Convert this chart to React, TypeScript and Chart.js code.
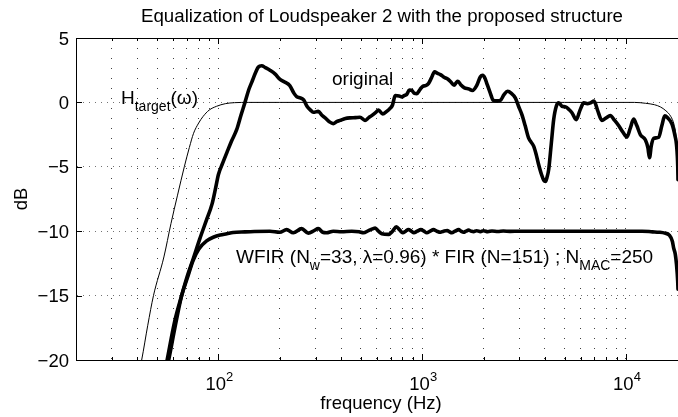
import { useEffect, useRef } from 'react';
import { Chart, registerables } from 'chart.js';

Chart.register(...registerables);

const TITLE = 'Equalization of Loudspeaker 2 with the proposed structure';
const X_LABEL = 'frequency (Hz)';
const Y_LABEL = 'dB';
const X_MIN = 20;
const X_MAX = 18000;
const Y_MIN = -20;
const Y_MAX = 5;
const X_GRID = [20, 30, 40, 50, 60, 70, 80, 90, 100, 200, 300, 400, 500, 600, 700, 800, 900, 1000, 2000, 3000, 4000, 5000, 6000, 7000, 8000, 9000, 10000];
const X_LABELED = [100, 1000, 10000];
const X_LABEL_EXP = ['2', '3', '4'];
const Y_TICKS = [5, 0, -5, -10, -15, -20];

const targetFreq = [38, 42, 45, 48, 54, 58.5, 63, 68, 72, 75.5, 80, 84, 90, 98, 108, 120, 140, 200, 1000, 5000, 11000, 12500, 13800, 14750, 15700, 16600, 17200, 17600, 17900, 18000];
const targetDb = [-23, -20, -17.3, -15, -12, -9.4, -7.2, -5, -3.5, -2.4, -1.6, -1.1, -0.6, -0.3, -0.1, -0.02, 0, 0, 0, 0, 0, -0.07, -0.18, -0.35, -0.65, -1.1, -1.7, -2.6, -4.2, -6];

const originalFreq = [50, 56, 61, 66, 70, 75, 81, 87.5, 93, 97, 100, 105, 110, 116, 123, 129, 135, 141, 146, 152, 157, 163, 170, 179, 190, 200, 210, 224, 235, 242, 252, 262, 272, 283, 292, 309, 322, 334, 350, 366, 380, 395, 420, 442, 470, 495, 524, 545, 565, 590, 610, 640, 670, 697, 715, 737, 770, 795, 820, 838, 865, 888, 915, 940, 975, 1006, 1040, 1073, 1110, 1150, 1190, 1228, 1280, 1328, 1380, 1433, 1470, 1497, 1550, 1612, 1690, 1764, 1850, 1930, 1982, 2030, 2070, 2150, 2235, 2320, 2418, 2520, 2625, 2740, 2862, 2970, 3085, 3200, 3326, 3430, 3527, 3620, 3710, 3850, 3950, 4026, 4100, 4177, 4300, 4418, 4550, 4680, 4850, 5050, 5250, 5430, 5700, 5950, 6210, 6450, 6700, 6970, 7250, 7620, 8000, 8370, 8800, 9200, 9650, 10100, 10500, 10900, 11300, 11760, 12440, 12800, 13050, 13300, 13680, 14470, 15000, 15500, 16000, 16840, 17400, 17700, 17950, 18000];
const originalDb = [-24, -20, -17, -15, -13.6, -12.2, -10.6, -9.1, -7.9, -6.6, -5.6, -4.7, -3.9, -3.0, -2.1, -1.0, 0, 1.0, 1.6, 2.3, 2.75, 2.85, 2.7, 2.5, 2.2, 1.8, 1.6, 1.3, 0.7, 0.45, 0.35, 0.2, -0.3, -0.6, -0.77, -0.7, -1.0, -1.2, -1.5, -1.65, -1.5, -1.4, -1.25, -1.2, -1.18, -1.15, -1.4, -1.2, -1.03, -0.8, -0.6, -0.9, -0.7, -0.45, -0.2, 0.53, 0.5, 0.43, 0.55, 0.6, 0.95, 0.94, 0.7, 0.68, 1.0, 1.25, 1.3, 1.46, 1.9, 2.37, 2.25, 2.16, 1.95, 1.83, 1.6, 1.33, 1.55, 1.64, 1.35, 1.13, 1.05, 0.92, 1.3, 2.0, 2.11, 1.9, 1.52, 0.8, 0.16, 0.12, 0.16, 0.6, 0.86, 0.7, 0.35, -0.3, -0.95, -1.8, -2.76, -3.1, -3.41, -4.0, -4.7, -5.6, -6.05, -6.14, -5.8, -5.2, -3.2, -1.33, -0.3, -0.04, -0.3, -0.35, -0.55, -0.8, -1.34, -0.6, -0.04, -0.1, -0.04, 0.1, -0.6, -1.4, -1.2, -1.03, -1.4, -1.8, -2.3, -2.7, -2.0, -1.3, -1.8, -2.5, -2.9, -3.5, -4.3, -3.4, -2.8, -2.7, -1.8, -1.05, -1.2, -1.7, -2.6, -3.3, -5, -6];

const eqFreq = [50, 57, 61.5, 66, 70.5, 75, 80, 87.5, 95, 102, 110, 118, 135, 150, 179, 200, 216, 233, 256, 276, 295, 309, 325, 339, 366, 402, 451, 490, 515, 545, 570, 588, 610, 634, 684, 715, 747, 775, 802, 830, 855, 885, 910, 945, 985, 1020, 1053, 1095, 1135, 1180, 1228, 1275, 1328, 1360, 1398, 1450, 1510, 1550, 1597, 1640, 1688, 1740, 1786, 1850, 1930, 2000, 2100, 2200, 2350, 2500, 2700, 3000, 5000, 10000, 12000, 13500, 14500, 15500, 16300, 16900, 17130, 17460, 17700, 17940, 18000];
const eqDb = [-24, -20, -17.3, -15, -13.6, -12.3, -11.4, -10.75, -10.45, -10.3, -10.2, -10.1, -10.05, -10.02, -10.0, -10.08, -9.88, -10.12, -9.8, -10.15, -9.95, -9.8, -10.08, -10.12, -10.0, -10.04, -10.0, -10.04, -10.12, -9.95, -9.82, -9.75, -10.0, -10.2, -10.25, -10.0, -9.65, -9.9, -10.12, -10.0, -9.87, -10.0, -10.12, -10.0, -9.88, -10.0, -10.12, -10.0, -9.88, -10.0, -10.08, -10.0, -9.95, -10.04, -10.12, -10.0, -9.88, -10.0, -10.08, -10.0, -9.92, -10.0, -10.04, -9.96, -10.04, -9.96, -10.04, -9.98, -10.02, -9.99, -10.01, -10.0, -10.0, -10.0, -10.0, -10.05, -10.08, -10.15, -10.3, -10.8, -11.3, -11.8, -12.6, -13.9, -14.5];

const FONT = '"Liberation Sans", Arial, Helvetica, sans-serif';

type Part = [string, number]; // 0 normal, 1 subscript, 2 superscript

function drawParts(ctx: CanvasRenderingContext2D, parts: Part[], x: number, y: number, size: number, align: 'left' | 'center' | 'right') {
  const small = Math.round(size * 0.72);
  const widths = parts.map(([t, k]) => {
    ctx.font = `${k ? small : size}px ${FONT}`;
    return ctx.measureText(t).width;
  });
  const total = widths.reduce((s, w) => s + w, 0);
  let cx = align === 'left' ? x : align === 'center' ? x - total / 2 : x - total;
  ctx.textAlign = 'left';
  ctx.textBaseline = 'alphabetic';
  parts.forEach(([t, k], i) => {
    ctx.font = `${k ? small : size}px ${FONT}`;
    const dy = k === 1 ? size * 0.38 : k === 2 ? -size * 0.5 : 0;
    ctx.fillText(t, cx, y + dy);
    cx += widths[i];
  });
}

const matlabPlugin = {
  id: 'matlabDecor',
  afterDraw(chart: any) {
    const { ctx, chartArea: a } = chart;
    const xs = chart.scales.x;
    const ys = chart.scales.y;
    ctx.save();
    ctx.strokeStyle = '#000';
    ctx.lineWidth = 1;
    ctx.setLineDash([]);
    const seg = (x1: number, y1: number, x2: number, y2: number) => {
      ctx.beginPath();
      ctx.moveTo(x1, y1);
      ctx.lineTo(x2, y2);
      ctx.stroke();
    };
    seg(a.left, Math.round(a.top) + 0.5, a.right, Math.round(a.top) + 0.5);
    X_GRID.forEach((v) => {
      const px = Math.round(xs.getPixelForValue(v)) + 0.5;
      const len = X_LABELED.includes(v) ? 6 : 3;
      seg(px, a.bottom, px, a.bottom - len);
      seg(px, a.top, px, a.top + len);
    });
    Y_TICKS.forEach((v) => {
      const py = Math.round(ys.getPixelForValue(v)) + 0.5;
      seg(a.left, py, a.left + 6, py);
    });

    ctx.fillStyle = '#000';
    // title
    drawParts(ctx, [[TITLE, 0]], 382, 22, 18.7, 'center');
    // y tick labels
    Y_TICKS.forEach((v) => {
      const py = ys.getPixelForValue(v);
      const label = v < 0 ? '\u2212' + Math.abs(v) : String(v);
      drawParts(ctx, [[label, 0]], a.left - 7, py + 6.5, 18.5, 'right');
    });
    // x tick labels
    X_LABELED.forEach((v, i) => {
      const px = xs.getPixelForValue(v);
      drawParts(ctx, [['10', 0], [X_LABEL_EXP[i], 2]], px + 1, 390, 18.5, 'center');
    });
    // axis labels
    drawParts(ctx, [[X_LABEL, 0]], 381, 409, 18.5, 'center');
    ctx.save();
    ctx.translate(27, (a.top + a.bottom) / 2);
    ctx.rotate(-Math.PI / 2);
    drawParts(ctx, [[Y_LABEL, 0]], 0, 0, 18.5, 'center');
    ctx.restore();
    // annotations
    drawParts(ctx, [['H', 0], ['target', 1], ['(\u03c9)', 0]], 121, 104, 19, 'left');
    drawParts(ctx, [['original', 0]], 332, 85, 19, 'left');
    drawParts(
      ctx,
      [['WFIR (N', 0], ['w', 1], ['=33, \u03bb=0.96) * FIR (N=151) ; N', 0], ['MAC', 1], ['=250', 0]],
      236,
      263,
      19,
      'left'
    );
    ctx.restore();
  },
};

function toPoints(fs: number[], ds: number[]) {
  return fs.map((f, i) => ({ x: f, y: ds[i] }));
}

export default function App() {
  const ref = useRef<HTMLCanvasElement | null>(null);
  useEffect(() => {
    if (!ref.current) return;
    const line = (data: any, width: number) => ({
      data,
      borderColor: '#000',
      borderWidth: width,
      pointRadius: 0,
      showLine: true,
      cubicInterpolationMode: 'monotone' as const,
      fill: false,
      clip: 0,
      borderJoinStyle: 'round' as const,
      borderCapStyle: 'round' as const,
    });
    const chart = new Chart(ref.current, {
      type: 'scatter',
      data: {
        datasets: [
          { label: 'target', ...line(toPoints(targetFreq, targetDb), 1) },
          { label: 'original', ...line(toPoints(originalFreq, originalDb), 3.6) },
          { label: 'equalized', ...line(toPoints(eqFreq, eqDb), 3.6) },
        ],
      },
      options: {
        responsive: false,
        animation: false,
        events: [],
        layout: { padding: { left: 76, right: 0, top: 38, bottom: 57 } },
        plugins: { legend: { display: false }, tooltip: { enabled: false }, title: { display: false } },
        scales: {
          x: {
            type: 'logarithmic',
            min: X_MIN,
            max: X_MAX,
            afterBuildTicks: (scale: any) => {
              scale.ticks = X_GRID.map((v) => ({ value: v }));
            },
            ticks: { display: false },
            grid: { drawTicks: false, color: 'rgba(0,0,0,0.75)', lineWidth: 1 },
            border: { display: true, color: '#000', width: 1, dash: [1, 9] },
          },
          y: {
            type: 'linear',
            min: Y_MIN,
            max: Y_MAX,
            ticks: { display: false, stepSize: 5 },
            grid: { drawTicks: false, color: 'rgba(0,0,0,0.55)', lineWidth: 1 },
            border: { display: true, color: '#000', width: 1, dash: [1, 5] },
          },
        },
      },
      plugins: [matlabPlugin],
    });
    return () => chart.destroy();
  }, []);
  return (
    <div style={{ position: 'absolute', left: 0, top: 0, width: 678, height: 417, background: '#fff' }}>
      <canvas ref={ref} width={678} height={417} style={{ display: 'block' }} />
    </div>
  );
}
